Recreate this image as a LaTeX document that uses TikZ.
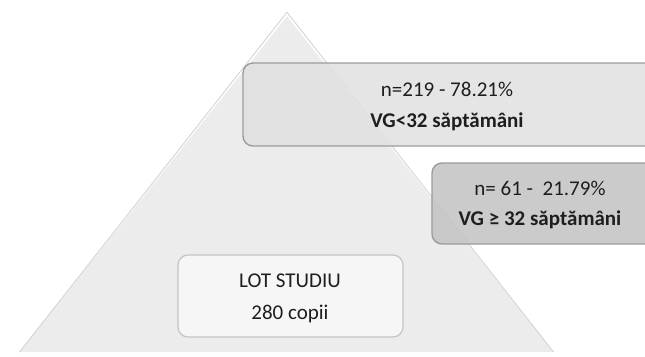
\documentclass[tikz,border=0pt]{standalone}
\usepackage{fontspec}
\setmainfont{Carlito}
\definecolor{trifill}{HTML}{ECECEC}
\definecolor{triedge}{HTML}{D0D0D0}
\definecolor{boxa}{HTML}{E0E0E0}
\definecolor{boxb}{HTML}{C2C2C2}
\definecolor{boxc}{HTML}{F8F8F8}
\definecolor{boxedge}{HTML}{9C9C9C}
\definecolor{boxcedge}{HTML}{C4C4C4}
\definecolor{txt}{HTML}{1E1E1E}
\begin{document}
\begin{tikzpicture}[x=1pt,y=-1pt,
  panel/.style={rounded corners=10pt, line width=1.4pt, fill opacity=0.85},
  lbl/.style={text=txt, font=\fontsize{21}{25}\selectfont, align=center, inner sep=0pt}]
\useasboundingbox (0,0) rectangle (645,356);
\clip (0,0) rectangle (645,356);
% pyramid
\coordinate (apex) at (287,14);
\coordinate (bl) at (18,352);
\coordinate (br) at (555,352);
\fill[trifill] (apex) -- (br) -- (bl) -- cycle;
\draw[white, line width=2.5pt, line join=round] (bl) -- (apex) -- (br);
\draw[triedge, line width=0.8pt, line join=round] ([xshift=1.5pt]bl) -- ([yshift=1.8pt]apex) -- ([xshift=-1.5pt]br);
% boxes
\draw[panel, fill=boxa, draw=boxedge] (243,63) rectangle (665,146);
\draw[panel, fill=boxb, draw=boxedge] (432,163) rectangle (665,244);
\draw[panel, fill=boxc, draw=boxcedge, line width=1.2pt] (178,255) rectangle (403,337);
% texts
\node[lbl] (t1) at (447,89) {n=219 - 78.21\%};
\node[lbl, font=\fontsize{21}{25}\selectfont\bfseries] (t2) at (447,122) {VG<32 săptămâni};
\node[lbl] (t3) at (540,188) {n= 61 -\ \ 21.79\%};
\node[lbl, font=\fontsize{21}{25}\selectfont\bfseries] (t4) at (540,220) {VG ≥ 32 săptămâni};
\node[lbl] (t5) at (290,281) {LOT STUDIU};
\node[lbl] (t6) at (290,314) {280 copii};
\end{tikzpicture}
\end{document}
